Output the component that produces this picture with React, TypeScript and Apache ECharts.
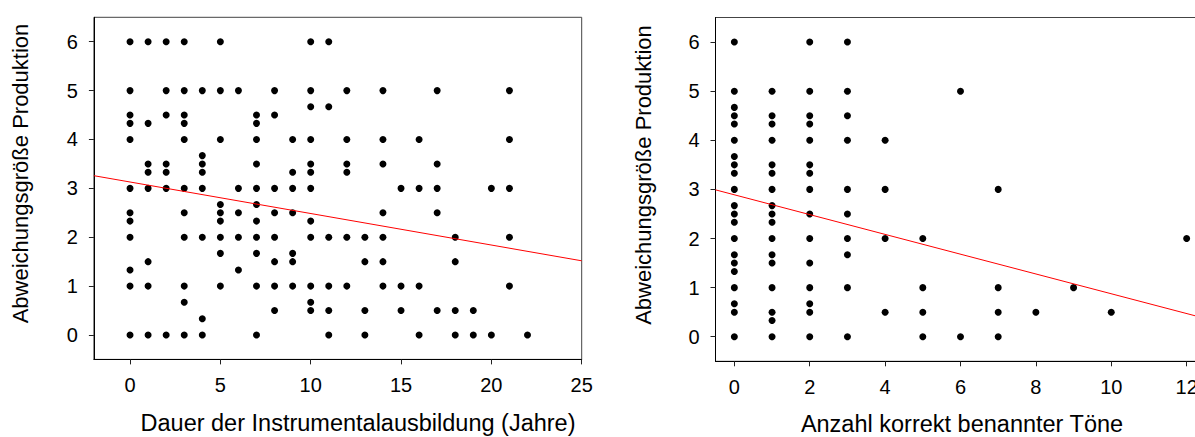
import React, { useEffect, useRef } from "react";
import * as echarts from "echarts";

// Left plot: training duration (years) vs. production deviation
const trainingPoints: [number, number][] = [
  [0, 6], [1, 6], [2, 6], [3, 6], [5, 6], [10, 6], [11, 6],
  [0, 5], [2, 5], [3, 5], [4, 5], [5, 5], [6, 5], [8, 5], [10, 5], [12, 5], [14, 5], [17, 5], [21, 5],
  [10, 4.67], [11, 4.67],
  [0, 4.5], [2, 4.5], [3, 4.5], [7, 4.5], [8, 4.5],
  [0, 4.33], [1, 4.33], [3, 4.33], [7, 4.33],
  [0, 4], [3, 4], [5, 4], [7, 4], [9, 4], [10, 4], [12, 4], [14, 4], [16, 4], [21, 4],
  [4, 3.67],
  [1, 3.5], [2, 3.5], [4, 3.5], [7, 3.5], [10, 3.5], [12, 3.5], [14, 3.5], [17, 3.5],
  [1, 3.33], [2, 3.33], [4, 3.33], [9, 3.33], [10, 3.33], [12, 3.33],
  [0, 3], [1, 3], [2, 3], [3, 3], [4, 3], [6, 3], [7, 3], [8, 3], [9, 3], [10, 3], [15, 3], [16, 3], [17, 3], [20, 3], [21, 3],
  [5, 2.67], [7, 2.67],
  [0, 2.5], [3, 2.5], [5, 2.5], [6, 2.5], [8, 2.5], [9, 2.5], [14, 2.5], [17, 2.5],
  [0, 2.33], [5, 2.33], [7, 2.33], [10, 2.33],
  [0, 2], [3, 2], [4, 2], [5, 2], [6, 2], [7, 2], [8, 2], [10, 2], [11, 2], [12, 2], [13, 2], [14, 2], [18, 2], [21, 2],
  [5, 1.67], [7, 1.67], [9, 1.67],
  [1, 1.5], [8, 1.5], [9, 1.5], [13, 1.5], [14, 1.5], [18, 1.5],
  [0, 1.33], [6, 1.33],
  [0, 1], [1, 1], [3, 1], [5, 1], [7, 1], [8, 1], [9, 1], [10, 1], [11, 1], [12, 1], [14, 1], [15, 1], [16, 1], [21, 1],
  [3, 0.67], [10, 0.67],
  [8, 0.5], [10, 0.5], [11, 0.5], [13, 0.5], [15, 0.5], [17, 0.5], [18, 0.5], [19, 0.5],
  [4, 0.33],
  [0, 0], [1, 0], [2, 0], [3, 0], [4, 0], [7, 0], [11, 0], [13, 0], [16, 0], [18, 0], [19, 0], [20, 0], [22, 0],
];

// Right plot: number of correctly named tones vs. production deviation
const tonePoints: [number, number][] = [
  [0, 6], [2, 6], [3, 6],
  [0, 5], [1, 5], [2, 5], [3, 5], [6, 5],
  [0, 4.67],
  [0, 4.5], [1, 4.5], [2, 4.5], [3, 4.5],
  [0, 4.33], [1, 4.33], [2, 4.33],
  [0, 4], [1, 4], [2, 4], [3, 4], [4, 4],
  [0, 3.67],
  [0, 3.5], [1, 3.5], [2, 3.5],
  [0, 3.33], [1, 3.33], [2, 3.33],
  [0, 3], [1, 3], [2, 3], [3, 3], [4, 3], [7, 3],
  [0, 2.67], [1, 2.67],
  [0, 2.5], [1, 2.5], [2, 2.5], [3, 2.5],
  [0, 2.33], [1, 2.33],
  [0, 2], [1, 2], [2, 2], [3, 2], [4, 2], [5, 2], [12, 2],
  [0, 1.67], [1, 1.67], [3, 1.67],
  [0, 1.5], [1, 1.5], [2, 1.5],
  [0, 1.33],
  [0, 1], [1, 1], [2, 1], [3, 1], [5, 1], [7, 1], [9, 1],
  [0, 0.67], [2, 0.67],
  [0, 0.5], [1, 0.5], [2, 0.5], [4, 0.5], [5, 0.5], [7, 0.5], [8, 0.5], [10, 0.5],
  [1, 0.33],
  [0, 0], [1, 0], [2, 0], [3, 0], [5, 0], [6, 0], [7, 0],
];

// Regression lines: [intercept, slope]
const trainingFit: [number, number] = [3.13, -0.0645];
const toneFit: [number, number] = [2.89, -0.2015];

const leftXRange: [number, number] = [-2, 25];
const rightXRange: [number, number] = [-0.5, 12.5];
const yRange: [number, number] = [-0.5, 6.5];

const leftXTicks = [0, 5, 10, 15, 20, 25];
const rightXTicks = [0, 2, 4, 6, 8, 10, 12];
const yTicks = [0, 1, 2, 3, 4, 5, 6];

const yTitle = "Abweichungsgröße Produktion";
const leftXTitle = "Dauer der Instrumentalausbildung (Jahre)";
const rightXTitle = "Anzahl korrekt benannter Töne";

const FONT = "'Liberation Sans', Arial, sans-serif";

function fitLine(fit: [number, number], range: [number, number]) {
  return range.map((x) => [x, fit[0] + fit[1] * x]);
}

function makeX(gridIndex: number, range: [number, number], ticks: number[]) {
  return {
    type: "value",
    gridIndex,
    min: range[0],
    max: range[1],
    splitLine: { show: false },
    axisLine: { show: true, onZero: false, lineStyle: { color: "#000", width: 1 } },
    axisTick: { show: true, inside: false, length: 5, customValues: ticks, lineStyle: { color: "#222" } },
    axisLabel: { customValues: ticks, color: "#000", fontSize: 20, fontFamily: FONT, margin: 16 },
  };
}

function makeY(gridIndex: number) {
  return {
    type: "value",
    gridIndex,
    min: yRange[0],
    max: yRange[1],
    splitLine: { show: false },
    axisLine: { show: true, onZero: false, lineStyle: { color: "#000", width: 1 } },
    axisTick: { show: true, inside: false, length: 5, customValues: yTicks, lineStyle: { color: "#222" } },
    axisLabel: { customValues: yTicks, color: "#000", fontSize: 20, fontFamily: FONT, margin: 16 },
  };
}

export default function App() {
  const ref = useRef<HTMLDivElement>(null);
  useEffect(() => {
    if (!ref.current) return;
    const chart = echarts.init(ref.current, null, { renderer: "svg" });
    const titleStyle = { fill: "#000", fontSize: 22, fontFamily: FONT, textAlign: "center", textVerticalAlign: "middle" };
    const xTitleStyle = { ...titleStyle, fontSize: 23.5 };
    const dotStyle = { color: "#000", opacity: 1 };
    chart.setOption({
      animation: false,
      backgroundColor: "#fff",
      grid: [
        { left: 93.9, top: 17.3, width: 487.8, height: 342.1, show: true, borderColor: "#444", borderWidth: 1, backgroundColor: "transparent" },
        { left: 715.5, top: 17.5, width: 490, height: 343.8, show: true, borderColor: "#444", borderWidth: 1, backgroundColor: "transparent" },
      ],
      xAxis: [makeX(0, leftXRange, leftXTicks), makeX(1, rightXRange, rightXTicks)],
      yAxis: [makeY(0), makeY(1)],
      series: [
        {
          type: "scatter", xAxisIndex: 0, yAxisIndex: 0, data: trainingPoints,
          symbol: "circle", symbolSize: 7, itemStyle: dotStyle,
        },
        {
          type: "line", xAxisIndex: 0, yAxisIndex: 0, data: fitLine(trainingFit, leftXRange),
          showSymbol: false, symbol: "none", lineStyle: { color: "#ff0000", width: 1 }, z: 3,
        },
        {
          type: "scatter", xAxisIndex: 1, yAxisIndex: 1, data: tonePoints,
          symbol: "circle", symbolSize: 7, itemStyle: dotStyle,
        },
        {
          type: "line", xAxisIndex: 1, yAxisIndex: 1, data: fitLine(toneFit, rightXRange),
          showSymbol: false, symbol: "none", lineStyle: { color: "#ff0000", width: 1 }, z: 3,
        },
      ],
      graphic: [
        { type: "text", x: 20, y: 173.5, rotation: Math.PI / 2, style: { ...titleStyle, text: yTitle } },
        { type: "text", x: 643, y: 175, rotation: Math.PI / 2, style: { ...titleStyle, text: yTitle } },
        { type: "text", x: 358, y: 423, style: { ...xTitleStyle, text: leftXTitle } },
        { type: "text", x: 962, y: 424, style: { ...xTitleStyle, text: rightXTitle } },
      ],
    });
    return () => chart.dispose();
  }, []);
  return (
    <div style={{ position: "absolute", left: 0, top: 0, width: 1195, height: 437, overflow: "hidden", background: "#fff" }}>
      <div ref={ref} style={{ width: 1230, height: 437 }} />
    </div>
  );
}
